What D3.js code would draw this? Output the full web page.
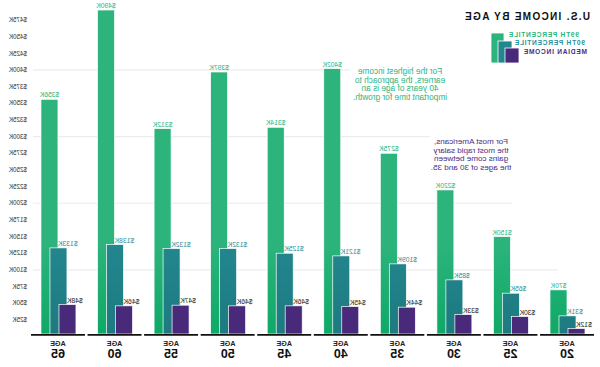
<!DOCTYPE html>
<html><head><meta charset="utf-8">
<script src="https://cdn.jsdelivr.net/npm/d3@7"></script>
<style>
html,body{margin:0;padding:0;background:#fff;}
svg{display:block;font-family:"Liberation Sans",Arial,sans-serif;}
</style></head>
<body>
<svg id="chart" width="600" height="367"></svg>
<script>
const ages = ["20","25","30","35","40","45","50","55","60","65"];
const p99 = [70,150,220,275,402,314,397,312,490,356];
const p90 = [31,65,85,109,121,125,132,132,138,133];
const median = [12,30,33,44,45,46,46,47,46,48];
const yTicks = [25,50,75,100,125,150,175,200,225,250,275,300,325,350,375,400,425,450,475];
const gridValues = [100,200,300,400];
const seriesNames = ["99TH PERCENTILE","90TH PERCENTILE","MEDIAN INCOME"];
const title = "U.S. INCOME BY AGE";
const note1 = ["For the highest income","earners, the approach to","40 years of age is an","important time for growth."];
const note2 = ["For most Americans,","the most rapid salary","gains come between","the ages of 30 and 35."];

const C = {g:"#2db47d", gb:"#0ea967", t:"#23878f", tb:"#1d7a80", p:"#48297a", tl:"#2a8f9c", pl:"#4b2d80"};

const svg = d3.select("#chart");
const defs = svg.append("defs");
function grad(id, top, bot){
  const lg = defs.append("linearGradient").attr("id",id).attr("gradientUnits","userSpaceOnUse")
    .attr("x1",0).attr("x2",0).attr("y1",240).attr("y2",334);
  lg.append("stop").attr("offset",0).attr("stop-color",top);
  lg.append("stop").attr("offset",1).attr("stop-color",bot);
}
grad("gG", C.g, C.gb); grad("gT", C.t, C.tb);

// whole chart is mirrored horizontally, as in the reference
const root = svg.append("g").attr("transform","translate(600,0) scale(-1,1)");

const x = d3.scaleBand().domain(ages).range([4.7,570.3]).paddingInner(0.046).paddingOuter(0.023);
const sub = d3.scalePoint().domain(["median","p90","p99"]).range([9,27]);
const bw = 17;
const y = d3.scaleLinear().domain([0,475]).range([336.5,20]);
const base = 334;

// gridlines
const gridStart = {100:42,200:88,300:170,400:250};
root.selectAll(".grid").data(gridValues).join("line")
  .attr("x1",d=>gridStart[d]).attr("x2",567)
  .attr("y1",d=>y(d)).attr("y2",d=>y(d))
  .attr("stroke","#ececec").attr("stroke-width",1.2);

// y tick labels
root.selectAll(".yt").data(yTicks).join("text")
  .attr("x",573).attr("y",d=>y(d)+2.2)
  .attr("font-size",6.3).attr("fill","#333").attr("text-anchor","start")
  .text(d=>"$"+d+"K");

// bars
const series = [
  {key:"p99", vals:p99, fill:"url(#gG)", lab:C.g, anchor:"middle"},
  {key:"p90", vals:p90, fill:"url(#gT)", lab:C.tl, anchor:"end"},
  {key:"median", vals:median, fill:C.p, lab:"#222", anchor:"end"}
];
series.forEach(s=>{
  root.selectAll(".b"+s.key).data(ages).join("rect")
    .attr("x",(d)=>x(d)+sub(s.key)).attr("width",bw)
    .attr("y",(d,i)=>y(s.vals[i])).attr("height",(d,i)=>base-y(s.vals[i]))
    .attr("fill",s.fill).attr("stroke","#fff").attr("stroke-width",0.7);
});
series.forEach(s=>{
  root.selectAll(".l"+s.key).data(ages).join("text")
    .attr("x",(d)=>x(d)+sub(s.key)+bw/2+(s.anchor==="end"?0.5:0))
    .attr("y",(d,i)=>y(s.vals[i])-1.8)
    .attr("text-anchor",s.anchor).attr("font-size",6.8).attr("fill",s.lab)
    .text((d,i)=>"$"+s.vals[i]+"K");
});

// baseline segments
root.selectAll(".base").data(ages).join("line")
  .attr("x1",d=>x(d)).attr("x2",d=>x(d)+x.bandwidth())
  .attr("y1",base+0.8).attr("y2",base+0.8)
  .attr("stroke","#111").attr("stroke-width",1.8);

// category labels
root.selectAll(".ageT").data(ages).join("text")
  .attr("x",d=>x(d)+x.bandwidth()/2).attr("y",346)
  .attr("text-anchor","middle").attr("font-size",7.2).attr("font-weight","bold").attr("fill","#222")
  .text("AGE");
root.selectAll(".ageN").data(ages).join("text")
  .attr("x",d=>x(d)+x.bandwidth()/2).attr("y",358)
  .attr("text-anchor","middle").attr("font-size",12.5).attr("font-weight","bold").attr("fill","#111")
  .text(d=>d);

// title
root.append("text").attr("x",10).attr("y",20).attr("font-size",10).attr("font-weight","bold")
  .attr("letter-spacing",1.3).attr("fill","#111").text(title);

// legend
const legSq = [{x:96,y:33,w:13,c:C.g},{x:88,y:41,w:14,c:C.t},{x:81,y:48,w:14,c:C.p}];
root.selectAll(".lsq").data(legSq).join("rect")
  .attr("x",d=>d.x).attr("y",d=>d.y).attr("width",d=>d.w).attr("height",d=>63-d.y)
  .attr("fill",d=>d.c).attr("stroke","#fff").attr("stroke-width",0.8);
const legT = [{x:92,y:37.4,c:C.g},{x:86,y:45.4,c:C.tl},{x:77,y:54.2,c:C.pl}];
root.selectAll(".ltx").data(seriesNames).join("text")
  .attr("x",(d,i)=>legT[i].x).attr("y",(d,i)=>legT[i].y)
  .attr("text-anchor","end").attr("font-size",6.6).attr("font-weight","bold")
  .attr("letter-spacing",0.75).attr("fill",(d,i)=>legT[i].c).text(d=>d);

// annotations
root.selectAll(".n1").data(note1).join("text")
  .attr("x",200).attr("y",(d,i)=>74+i*8.5).attr("text-anchor","middle")
  .attr("font-size",8.3).attr("fill",C.g).text(d=>d);
root.selectAll(".n2").data(note2).join("text")
  .attr("x",129).attr("y",(d,i)=>144+i*8.6).attr("text-anchor","middle")
  .attr("font-size",8.1).attr("fill",C.pl).text(d=>d);
</script>
</body></html>
